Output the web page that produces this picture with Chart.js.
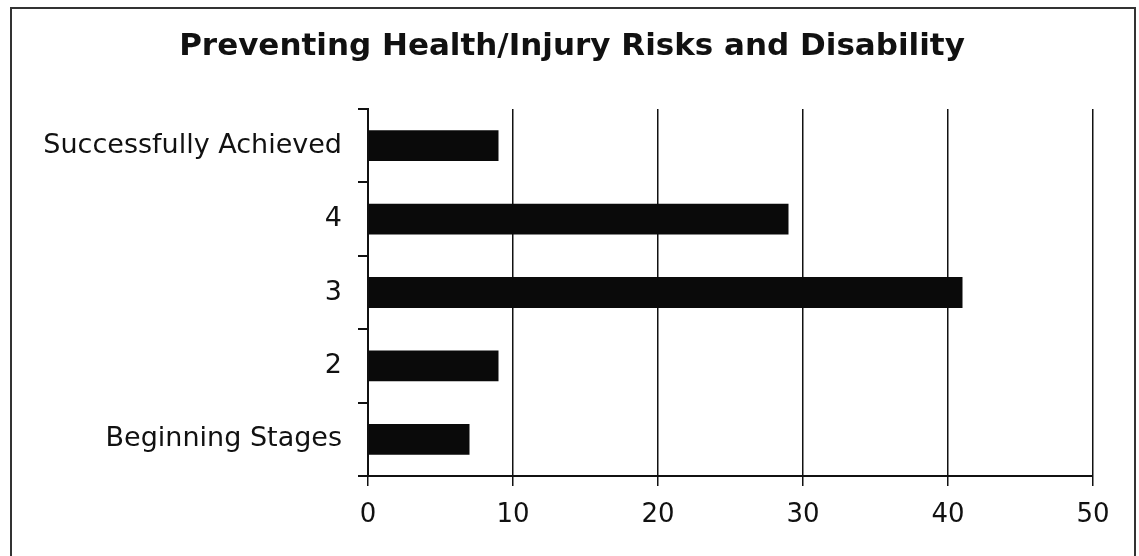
<!DOCTYPE html>
<html>
<head>
<meta charset="utf-8">
<style>
  html, body { margin: 0; padding: 0; background: #fff; }
  canvas { display: block; }
</style>
<script src="https://cdn.jsdelivr.net/npm/chart.js@4/dist/chart.umd.min.js"></script>
</head>
<body>
<canvas id="chart" width="1139" height="556"></canvas>
<script>
// 各阶段人数
const stages = ['Successfully Achieved', '4', '3', '2', 'Beginning Stages'];
const counts = [9, 29, 41, 9, 7];
const xTicks = [0, 10, 20, 30, 40, 50];

const chartTitle = 'Preventing Health/Injury Risks and Disability';
const INK = '#111';
const FONT = '"DejaVu Sans", Verdana, sans-serif';

// 外框 + 标题（标题按外框居中，不按绘图区）
const framePlugin = {
    id: 'frameTitle',
    beforeDraw(chart) {
        const ctx = chart.ctx;
        ctx.save();
        ctx.fillStyle = '#fff';
        ctx.fillRect(0, 0, chart.width, chart.height);
        ctx.strokeStyle = '#333';
        ctx.lineWidth = 2;
        ctx.strokeRect(11, 8, 1124, 560);
        ctx.restore();
    },
    afterDraw(chart) {
        const ctx = chart.ctx;
        ctx.save();
        ctx.fillStyle = INK;
        ctx.font = 'bold 31px ' + FONT;
        ctx.textAlign = 'center';
        ctx.textBaseline = 'middle';
        ctx.fillText(chartTitle, 572, 47);
        ctx.restore();
    }
};

new Chart(document.getElementById('chart'), {
    type: 'bar',
    data: {
        labels: stages,
        datasets: [{
            data: counts,
            backgroundColor: '#0a0a0a',
            borderWidth: 0,
            barPercentage: 0.42,
            categoryPercentage: 1
        }]
    },
    options: {
        indexAxis: 'y',
        responsive: false,
        animation: false,
        layout: { padding: { left: 0, top: 109, right: 46, bottom: 0 } },
        plugins: {
            legend: { display: false },
            title: { display: false },
            tooltip: { enabled: false }
        },
        scales: {
            x: {
                min: 0,
                max: 50,
                afterFit(scale) { scale.height = 80; },
                afterBuildTicks(scale) { scale.ticks = xTicks.map(v => ({ value: v })); },
                ticks: {
                    color: INK,
                    padding: 14,
                    font: { family: FONT, size: 26 }
                },
                grid: {
                    color: INK,
                    lineWidth: 1.5,
                    drawTicks: true,
                    tickLength: 10
                },
                border: { display: true, color: INK, width: 2 }
            },
            y: {
                afterFit(scale) { scale.width = 368; },
                ticks: {
                    color: INK,
                    padding: 16,
                    font: { family: FONT, size: 27 }
                },
                grid: {
                    color: INK,
                    lineWidth: 2,
                    drawOnChartArea: false,
                    drawTicks: true,
                    tickLength: 10,
                    offset: true
                },
                border: { display: true, color: INK, width: 2 }
            }
        }
    },
    plugins: [framePlugin]
});
</script>
</body>
</html>
